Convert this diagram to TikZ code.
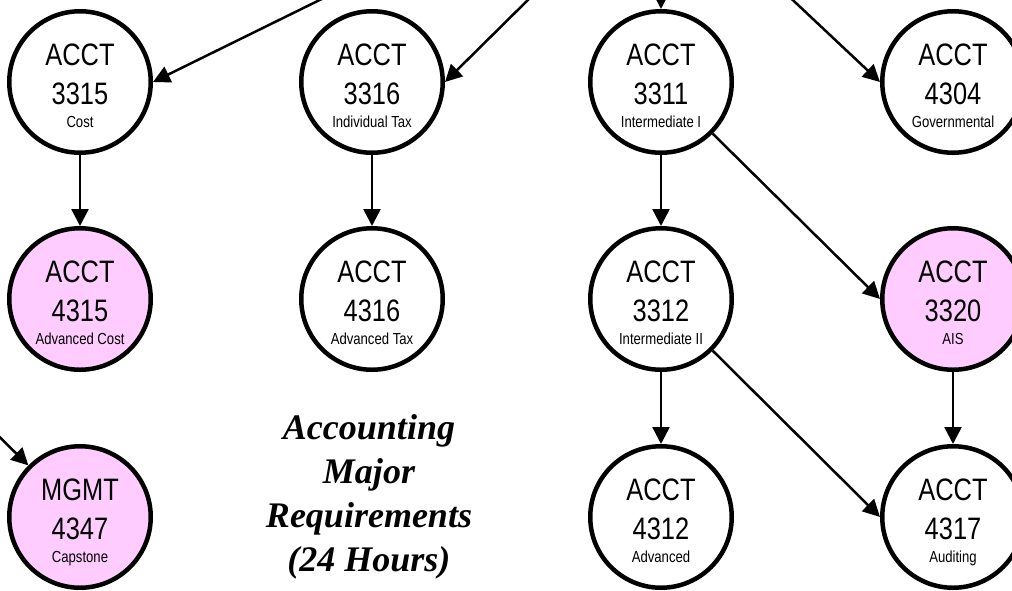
\documentclass[tikz,border=0pt]{standalone}
\usepackage{fontspec}
\usetikzlibrary{arrows.meta}
\newfontfamily\narrowfont{Liberation Sans}[FakeStretch=0.82]
\newfontfamily\titlefont{Liberation Serif}
\definecolor{pinkfill}{HTML}{FFCCFF}
\tikzset{
  course/.style={circle,draw=black,line width=4.5pt,minimum size=141.5pt,inner sep=0pt},
  bigtext/.style={inner sep=0pt,anchor=base,font=\narrowfont\fontsize{31}{31}\selectfont},
  smalltext/.style={inner sep=0pt,anchor=base,font=\narrowfont\fontsize{16}{16}\selectfont},
  conn/.style={line width=2.5pt,-{Triangle[length=17pt,width=17pt]}},
  titletext/.style={inner sep=0pt,align=center,font=\titlefont\bfseries\itshape\fontsize{36}{44}\selectfont}
}
\newcommand{\coursenode}[7]{%
  \node[course,fill=#4] (#1) at (#2,#3) {};
  \node[bigtext] (#1a) at ([yshift=16.5pt]#1.center) {#5};
  \node[bigtext] (#1b) at ([yshift=-22.5pt]#1.center) {#6};
  \node[smalltext] (#1c) at ([yshift=-45.5pt]#1.center) {#7};
}
\begin{document}
\begin{tikzpicture}[x=1pt,y=-1pt]
\useasboundingbox (0,0) rectangle (1012,590);
\coursenode{c3315}{80}{82}{white}{ACCT}{3315}{Cost}
\coursenode{c3316}{372}{82}{white}{ACCT}{3316}{Individual Tax}
\coursenode{c3311}{661}{82}{white}{ACCT}{3311}{Intermediate I}
\coursenode{c4304}{953}{82}{white}{ACCT}{4304}{Governmental}
\coursenode{c4315}{80}{299}{pinkfill}{ACCT}{4315}{Advanced Cost}
\coursenode{c4316}{372}{299}{white}{ACCT}{4316}{Advanced Tax}
\coursenode{c3312}{661}{299}{white}{ACCT}{3312}{Intermediate II}
\coursenode{c3320}{953}{299}{pinkfill}{ACCT}{3320}{AIS}
\coursenode{c4347}{80}{517}{pinkfill}{MGMT}{4347}{Capstone}
\coursenode{c4312}{661}{517}{white}{ACCT}{4312}{Advanced}
\coursenode{c4317}{953}{517}{white}{ACCT}{4317}{Auditing}
\node[titletext] (title) at (369,497) {Accounting\\Major\\Requirements\\(24 Hours)};
\coordinate (s3315) at (340,-10);
\coordinate (s3316) at (540,-12);
\coordinate (s3311) at (661,-30);
\coordinate (s4304) at (780,-12);
\coordinate (s4347) at (-30,408);
\draw[conn] (s3315) -- (c3315.east);
\draw[conn] (s3316) -- (c3316.east);
\draw[conn] (s3311) -- (c3311.north);
\draw[conn] (s4304) -- (c4304.west);
\draw[conn] (s4347) -- (c4347.135);
\draw[conn] (c3315) -- (c4315);
\draw[conn] (c3316) -- (c4316);
\draw[conn] (c3311) -- (c3312);
\draw[conn] (c3311.-45) -- (c3320.west);
\draw[conn] (c3312) -- (c4312);
\draw[conn] (c3312.-45) -- (c4317.west);
\draw[conn] (c3320) -- (c4317);
\end{tikzpicture}
\end{document}
